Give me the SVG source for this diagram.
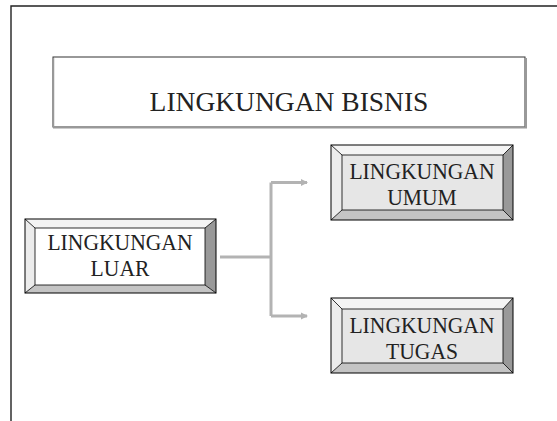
<svg xmlns="http://www.w3.org/2000/svg" width="557" height="421" viewBox="0 0 557 421">
  <style>
    .t { font-family: "Liberation Serif", "Times New Roman", serif; fill: #222; text-anchor: middle; }
    .bt { font-size: 22.5px; }
    .edge { stroke: #000; stroke-width: 1; stroke-linejoin: miter; }
    .top { fill: #f4f4f4; }
    .left { fill: #ececec; }
    .right { fill: #999; }
    .bottom { fill: #c4c4c4; }
    .diag { stroke: #000; stroke-width: 0.8; fill: none; }
    .conn { stroke: #b3b3b3; stroke-width: 3; fill: none; }
  </style>
  <defs>
    <marker id="arr" markerWidth="8" markerHeight="8" refX="6" refY="4" orient="auto" markerUnits="userSpaceOnUse">
      <polygon points="0,0.5 7,4 0,7.5" fill="#b3b3b3"/>
    </marker>
  </defs>
  <rect x="0" y="0" width="557" height="421" fill="#fff"/>
  <!-- outer frame -->
  <path d="M11,421 L11,6 L557,6" fill="none" stroke="#222" stroke-width="1.4"/>

  <g id="title">
    <rect x="53" y="57" width="472" height="70" fill="#fff" stroke="#333" stroke-width="1"/>
    <path d="M526,58 L526,127.5 L53,127.5" fill="none" stroke="#999" stroke-width="2"/>
    <path d="M53.5,58 L53.5,127" fill="none" stroke="#999" stroke-width="1.5"/>
    <text class="t" x="289" y="111" font-size="27.5">LINGKUNGAN BISNIS</text>
  </g>

  <g id="luar">
    <polygon class="top" points="25,219 216,219 205,228 35,228"/>
    <polygon class="left" points="25,219 35,228 35,285 25,293"/>
    <polygon class="right" points="216,219 216,293 205,285 205,228"/>
    <polygon class="bottom" points="25,293 35,285 205,285 216,293"/>
    <rect x="35" y="228" width="170" height="57" fill="#fff" stroke="#000" stroke-width="0.8"/>
    <path class="diag" d="M25,219 L35,228 M216,219 L205,228 M25,293 L35,285 M216,293 L205,285"/>
    <rect x="25" y="219" width="191" height="74" fill="none" class="edge"/>
    <text class="t bt" transform="translate(120,249.5) scale(0.96,1)">LINGKUNGAN</text>
    <text class="t bt" transform="translate(120,276) scale(0.96,1)">LUAR</text>
  </g>

  <g id="umum">
    <polygon class="top" points="331,145 513,145 503,155 342,155"/>
    <polygon class="left" points="331,145 342,155 342,210 331,220"/>
    <polygon class="right" points="513,145 513,220 503,210 503,155"/>
    <polygon class="bottom" points="331,220 342,210 503,210 513,220"/>
    <rect x="342" y="155" width="161" height="55" fill="#e6e6e6" stroke="#000" stroke-width="0.8"/>
    <path class="diag" d="M331,145 L342,155 M513,145 L503,155 M331,220 L342,210 M513,220 L503,210"/>
    <rect x="331" y="145" width="182" height="75" fill="none" class="edge"/>
    <text class="t bt" transform="translate(422,179) scale(0.96,1)">LINGKUNGAN</text>
    <text class="t bt" transform="translate(422,205) scale(0.96,1)">UMUM</text>
  </g>

  <g id="tugas">
    <polygon class="top" points="331,298 513,298 503,309 342,309"/>
    <polygon class="left" points="331,298 342,309 342,363 331,373"/>
    <polygon class="right" points="513,298 513,373 503,363 503,309"/>
    <polygon class="bottom" points="331,373 342,363 503,363 513,373"/>
    <rect x="342" y="309" width="161" height="54" fill="#e6e6e6" stroke="#000" stroke-width="0.8"/>
    <path class="diag" d="M331,298 L342,309 M513,298 L503,309 M331,373 L342,363 M513,373 L503,363"/>
    <rect x="331" y="298" width="182" height="75" fill="none" class="edge"/>
    <text class="t bt" transform="translate(422,333) scale(0.96,1)">LINGKUNGAN</text>
    <text class="t bt" transform="translate(422,358.5) scale(0.96,1)">TUGAS</text>
  </g>

  <g id="connectors">
    <path class="conn" d="M220,257 L271,257"/>
    <path class="conn" d="M271,182.5 L271,316"/>
    <path class="conn" d="M271,182.5 L307,182.5" marker-end="url(#arr)"/>
    <path class="conn" d="M271,316 L307,316" marker-end="url(#arr)"/>
  </g>
</svg>
